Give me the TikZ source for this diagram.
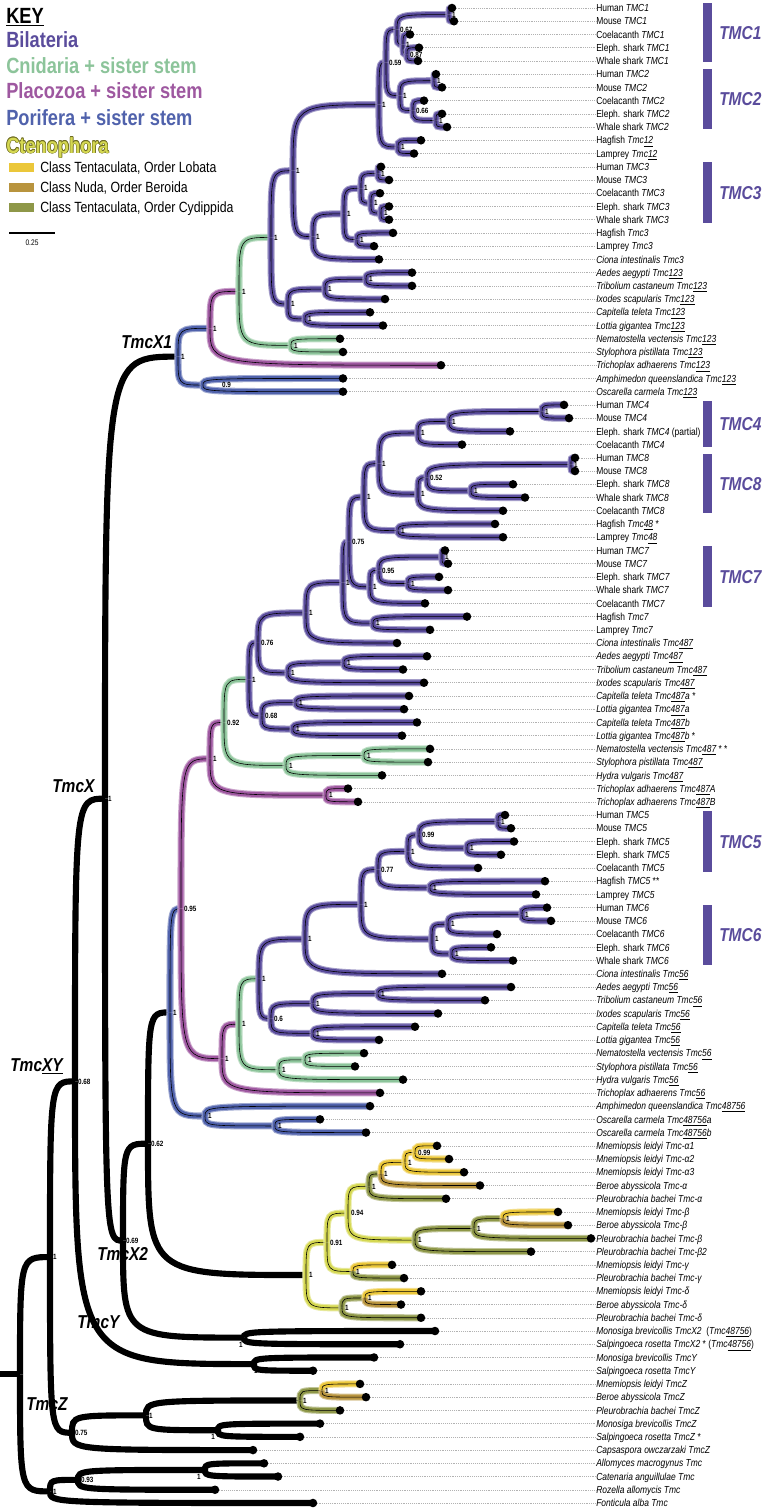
\documentclass[tikz,border=0pt]{standalone}
\usepackage{fontspec}
\newfontfamily\nar[FakeStretch=0.83]{Liberation Sans}

\definecolor{bilc}{HTML}{5A4C9C}
\definecolor{cnic}{HTML}{8CC49A}
\definecolor{plac}{HTML}{9E58A0}
\definecolor{porc}{HTML}{5062AC}
\definecolor{ctec}{HTML}{D5D852}
\definecolor{ctedark}{HTML}{6E6C22}
\definecolor{lobc}{HTML}{EBC73A}
\definecolor{berc}{HTML}{B8943E}
\definecolor{cydc}{HTML}{8E9748}

\pgfdeclarelayer{front}
\pgfsetlayers{main,front}

\tikzset{
  cb/.style={draw=#1!55!white, line width=5.3pt,
             postaction={draw=#1, line width=3.7pt},
             postaction={draw=black, line width=0.45pt}},
  bil/.style={cb=bilc}, cni/.style={cb=cnic}, pla/.style={cb=plac},
  por/.style={cb=porc}, cte/.style={cb=ctec}, lob/.style={cb=lobc},
  ber/.style={cb=berc}, cyd/.style={cb=cydc},
  blk/.style={draw=black, line width=4.6pt},
  sup/.style={font=\nar\bfseries\fontsize{5.7}{6}\selectfont, inner sep=0pt,
              text height=4.1pt, text depth=0pt, anchor=west, xshift=2.2pt},
  lbl/.style={font=\nar\fontsize{7.65}{9}\selectfont, inner sep=0pt,
              text height=5.5pt, text depth=0pt, anchor=west},
  lead/.style={draw=black!30, line width=0.4pt, densely dotted},
  keyhd/.style={font=\nar\bfseries\fontsize{16.5}{18}\selectfont, inner sep=0pt, anchor=base west},
  keysub/.style={font=\nar\fontsize{11.1}{13}\selectfont, inner sep=0pt, anchor=base west},
  gene/.style={font=\nar\bfseries\itshape\fontsize{14}{16}\selectfont, inner sep=0pt,
               text height=10pt, text depth=0pt, anchor=west}
}

% branch: vertical out of the parent, bending into the child
\newcommand\br[3]{\draw[#1] (#2) .. controls (#2 |- #3) .. (#3);}
% internal node with its support value
\newcommand\nd[5][]{\coordinate (#2) at (#3,#4);
  \begin{pgfonlayer}{front}\node[sup,#1] (#2s) at (#2) {#5};\end{pgfonlayer}}

\begin{document}
\begin{tikzpicture}[x=0.75pt, y=-0.75pt, font=\nar]
\useasboundingbox (0,0) rectangle (766,1511);
\fill[white] (0,0) rectangle (766,1511);

% ---- key ----
\node[keyhd] (kkey) at (6,23) {\underline{KEY}};
\node[keyhd, text=bilc] (kbil) at (6,47) {Bilateria};
\node[keyhd, text=cnic] (kcni) at (6,73) {Cnidaria + sister stem};
\node[keyhd, text=plac] (kpla) at (6,98) {Placozoa + sister stem};
\node[keyhd, text=porc] (kpor) at (6,125) {Porifera + sister stem};
\foreach \dx/\dy [count=\k] in {-0.55/0,0.55/0,0/-0.55,0/0.55,-0.4/-0.4,0.4/0.4,-0.4/0.4,0.4/-0.4}
  \node[keyhd, text=ctedark] (kco\k) at (6+\dx,153+\dy) {Ctenophora};
\node[keyhd, text=ctec] (kcte) at (6,153) {Ctenophora};
\foreach \cc/\yy/\tt [count=\k] in {lobc/163/{Class Tentaculata, Order Lobata},
    berc/183/{Class Nuda, Order Beroida}, cydc/203/{Class Tentaculata, Order Cydippida}} {
  \fill[\cc] (9,\yy) rectangle (34,\yy+9);
  \node[keysub] (ksub\k) at (40,\yy+9) {\tt};
}
\draw[line width=1.5pt] (9,233) coordinate (sb0) -- (55,233) coordinate (sb1);
\node[font=\nar\fontsize{6}{7}\selectfont, inner sep=0pt] (sbl) at (32,243) {0.25};

% ---- gene family names ----
\node[gene] (lx1) at (121,342) {TmcX1};
\node[gene] (lx) at (52,786) {TmcX};
\node[gene] (lxy) at (10,1065) {Tmc\underline{XY}};
\node[gene] (lx2) at (97,1254) {TmcX2};
\node[gene] (ly) at (77,1322) {TmcY};
\node[gene] (lz) at (26,1404) {TmcZ};

% ---- vertebrate paralog bars ----
\foreach \gn/\ya/\yb in {TMC1/3/62, TMC2/69/129, TMC3/162/223, TMC4/401/447,
    TMC8/454/513, TMC7/546/607, TMC5/811/872, TMC6/905/965} {
  \fill[bilc] (703,\ya) rectangle (712,\yb);
  \node[gene, text=bilc] (b\gn) at (719,{(\ya+\yb)/2}) {\gn};
}

% ---- tree (y in leaf rows) ----
\begin{scope}[y=-9.9225pt, yshift=3.9225pt]
% TmcX1
\nd{tmcx1}{178}{27.35}{1}
\nd{pla123}{210}{25.21}{1}
\nd{cni123}{239}{22.42}{1}
\nd{bil123}{271}{18.34}{1}
\nd{deu123}{293}{13.30}{1}
\nd{g12}{379}{8.31}{1}
\nd{t12}{386}{5.125}{0.59}
\nd{t1}{397}{2.625}{0.67}
\nd{t1hm}{449}{1.5}{1}
\nd{t1cew}{403}{3.75}{1}
\nd{t1ew}{407}{4.5}{0.87}
\nd{t2}{400}{7.625}{1}
\nd{t2hm}{434}{6.5}{1}
\nd{t2cew}{413}{8.75}{0.66}
\nd{t2ew}{436}{9.5}{1}
\nd{cy12}{398}{11.5}{1}
\nd{t3d}{313}{18.28}{1}
\nd{t3v}{344}{16.56}{1}
\nd{t3g}{361}{14.625}{1}
\nd{t3hm}{378}{13.5}{1}
\nd{t3cew}{371}{15.75}{1}
\nd{t3ew}{381}{16.5}{1}
\nd{cy3}{357}{18.5}{1}
\nd{pro123}{288}{23.375}{1}
\nd{ati123}{325}{22.25}{1}
\nd{at123}{366}{21.5}{1}
\nd{cl123}{305}{24.5}{1}
\nd{cnp123}{291}{26.5}{1}
\nd[xshift=12pt]{porp123}{203}{29.5}{0.9}
% TmcX2 side: Tmc487 / Tmc56
\nd{tmcx}{105}{60.76}{1}
\nd{tmcx2}{123}{94.17}{0.69}
\nd{gx}{148}{86.84}{0.62}
\nd{px}{170}{76.915}{1}
\nd{plx}{181}{69.08}{0.95}
\nd{pla487}{210}{57.75}{1}
\nd{cni487}{224}{55.0}{0.92}
\nd{bil487}{249}{51.74}{1}
\nd{dp487}{258}{48.98}{0.76}
\nd{t487d}{306}{46.72}{1}
\nd{t487v}{343}{44.43}{1}
\nd{t487g}{349}{41.36}{0.75}
\nd{t48}{364}{37.97}{1}
\nd{t48g}{379}{35.44}{1}
\nd{t4}{418}{33.125}{1}
\nd{t4he}{449}{32.25}{1}
\nd{t4hm}{542}{31.5}{1}
\nd{t8}{418}{37.75}{1}
\nd{t8hw}{427}{36.5}{0.52}
\nd{t8hm}{571}{35.5}{1}
\nd{t8ew}{471}{37.5}{1}
\nd{cy48}{398}{40.5}{1}
\nd{t7}{370}{44.75}{1}
\nd{t7hw}{379}{43.5}{0.95}
\nd{t7hm}{442}{42.5}{1}
\nd{t7ew}{408}{44.5}{1}
\nd{cy7}{373}{47.5}{1}
\nd{ati487}{288}{51.25}{1}
\nd{at487}{344}{50.5}{1}
\nd{cl487}{262}{54.5}{0.68}
\nd{cla487}{296}{53.5}{1}
\nd{clb487}{293}{55.5}{1}
\nd{cnp487}{286}{58.25}{1}
\nd{nsp487}{364}{57.5}{1}
\nd{trp487}{326}{60.5}{1}
\nd{pla56}{222}{80.41}{1}
\nd{cni56}{239}{77.81}{1}
\nd{bil56}{259}{74.375}{1}
\nd{t56d}{305}{71.375}{1}
\nd{t56v}{361}{68.75}{1}
\nd{t5v}{378}{66.125}{0.77}
\nd{t5}{408}{64.75}{1}
\nd{t5he}{419}{63.5}{0.99}
\nd{t5hm}{498}{62.5}{1}
\nd{t5ee}{467}{64.5}{1}
\nd{cy5}{430}{67.5}{1}
\nd{t6}{432}{71.375}{1}
\nd{t6hc}{448}{70.25}{1}
\nd{t6hm}{522}{69.5}{1}
\nd{t6ew}{452}{72.5}{1}
\nd{pro56}{271}{77.375}{0.6}
\nd{ati56}{313}{76.25}{1}
\nd{at56}{378}{75.5}{1}
\nd{cl56}{313}{78.5}{1}
\nd{cnp56}{279}{81.25}{1}
\nd{nsp56}{305}{80.5}{1}
\nd{pori}{205}{84.75}{1}
\nd{osc}{275}{85.5}{1}
% ctenophores
\nd{cx2}{306}{96.77}{1}
\nd{ctg}{327}{94.3}{0.91}
\nd{ab94}{348}{92.09}{0.94}
\nd{alpha}{369}{90.06}{1}
\nd{ab}{381}{89.125}{1}
\nd{a123}{405}{88.25}{1}
\nd{a12}{415}{87.5}{0.99}
\nd{beta}{415}{94.125}{1}
\nd{bpb}{474}{93.25}{1}
\nd{bmb}{503}{92.5}{1}
\nd{gam}{353}{96.5}{1}
\nd{del}{342}{99.25}{1}
\nd{dmb}{365}{98.5}{1}
% choanoflagellates, TmcZ, fungi
\nd[anchor=north east, xshift=-3pt, yshift=-3pt]{chx2}{244}{101.5}{1}
\nd[anchor=north, xshift=-0.7pt, yshift=-3pt]{chy}{254}{103.5}{1}
\nd{tmcxy}{75}{82.13}{0.68}
\nd{ctz}{300}{106.25}{1}
\nd{zmb}{322}{105.5}{1}
\nd[anchor=north east, xshift=-4.4pt, yshift=-3pt]{chz}{218}{108.5}{1}
\nd{z1}{146}{107.375}{1}
\nd{tmcz}{72}{108.69}{0.75}
\nd{ncore}{50}{95.41}{1}
\nd[anchor=north east, xshift=-5.2pt, yshift=-3pt]{fac}{205}{111.5}{1}
\nd{fungi}{78}{112.25}{0.93}
\nd{fout}{50}{113.125}{1}
\coordinate (root) at (20,104.27);
\coordinate (stub) at (0,104.27);

% ---- backbone ----
\draw[blk] (stub) -- (root);
\br{blk}{root}{ncore}
\br{blk}{root}{fout}
\br{blk}{fout}{fungi}
\br{blk}{fungi}{fac}
\br{blk}{ncore}{tmcxy}
\br{blk}{ncore}{tmcz}
\br{blk}{tmcz}{z1}
\br{blk}{z1}{ctz}
\br{blk}{z1}{chz}
\br{cyd}{ctz}{zmb}
\br{blk}{tmcxy}{tmcx}
\br{blk}{tmcxy}{chy}
\br{blk}{tmcx}{tmcx1}
\br{blk}{tmcx}{tmcx2}
\br{blk}{tmcx2}{gx}
\br{blk}{tmcx2}{chx2}
\br{blk}{gx}{px}
\br{blk}{gx}{cx2}

% ---- TmcX1 ----
\br{por}{tmcx1}{pla123}
\br{por}{tmcx1}{porp123}
\br{pla}{pla123}{cni123}
\br{cni}{cni123}{bil123}
\br{cni}{cni123}{cnp123}
\br{bil}{bil123}{deu123}
\br{bil}{bil123}{pro123}
\br{bil}{deu123}{g12}
\br{bil}{deu123}{t3d}
\br{bil}{g12}{t12}
\br{bil}{g12}{cy12}
\br{bil}{t12}{t1}
\br{bil}{t12}{t2}
\br{bil}{t1}{t1hm}
\br{bil}{t1}{t1cew}
\br{bil}{t1cew}{t1ew}
\br{bil}{t2}{t2hm}
\br{bil}{t2}{t2cew}
\br{bil}{t2cew}{t2ew}
\br{bil}{t3d}{t3v}
\br{bil}{t3v}{t3g}
\br{bil}{t3v}{cy3}
\br{bil}{t3g}{t3hm}
\br{bil}{t3g}{t3cew}
\br{bil}{t3cew}{t3ew}
\br{bil}{pro123}{ati123}
\br{bil}{pro123}{cl123}
\br{bil}{ati123}{at123}

% ---- Tmc487 ----
\br{por}{px}{plx}
\br{por}{px}{pori}
\br{por}{pori}{osc}
\br{pla}{plx}{pla487}
\br{pla}{plx}{pla56}
\br{pla}{pla487}{cni487}
\br{pla}{pla487}{trp487}
\br{cni}{cni487}{bil487}
\br{cni}{cni487}{cnp487}
\br{cni}{cnp487}{nsp487}
\br{bil}{bil487}{dp487}
\br{bil}{bil487}{cl487}
\br{bil}{dp487}{t487d}
\br{bil}{dp487}{ati487}
\br{bil}{ati487}{at487}
\br{bil}{cl487}{cla487}
\br{bil}{cl487}{clb487}
\br{bil}{t487d}{t487v}
\br{bil}{t487v}{t487g}
\br{bil}{t487v}{cy7}
\br{bil}{t487g}{t48}
\br{bil}{t487g}{t7}
\br{bil}{t48}{t48g}
\br{bil}{t48}{cy48}
\br{bil}{t48g}{t4}
\br{bil}{t48g}{t8}
\br{bil}{t4}{t4he}
\br{bil}{t4he}{t4hm}
\br{bil}{t8}{t8hw}
\br{bil}{t8hw}{t8hm}
\br{bil}{t8hw}{t8ew}
\br{bil}{t7}{t7hw}
\br{bil}{t7hw}{t7hm}
\br{bil}{t7hw}{t7ew}

% ---- Tmc56 ----
\br{pla}{pla56}{cni56}
\br{cni}{cni56}{bil56}
\br{cni}{cni56}{cnp56}
\br{cni}{cnp56}{nsp56}
\br{bil}{bil56}{t56d}
\br{bil}{bil56}{pro56}
\br{bil}{pro56}{ati56}
\br{bil}{pro56}{cl56}
\br{bil}{ati56}{at56}
\br{bil}{t56d}{t56v}
\br{bil}{t56v}{t5v}
\br{bil}{t56v}{t6}
\br{bil}{t5v}{t5}
\br{bil}{t5v}{cy5}
\br{bil}{t5}{t5he}
\br{bil}{t5he}{t5hm}
\br{bil}{t5he}{t5ee}
\br{bil}{t6}{t6hc}
\br{bil}{t6}{t6ew}
\br{bil}{t6hc}{t6hm}

% ---- ctenophores ----
\br{cte}{cx2}{ctg}
\br{cte}{cx2}{del}
\br{cyd}{del}{dmb}
\br{cte}{ctg}{ab94}
\br{cte}{ctg}{gam}
\br{cte}{ab94}{alpha}
\br{cte}{ab94}{beta}
\br{cyd}{alpha}{ab}
\br{lob}{ab}{a123}
\br{lob}{a123}{a12}
\br{cyd}{beta}{bpb}
\br{cyd}{bpb}{bmb}

% ---- leaves: tip x / parent / colour / label ----
\foreach \tx/\pa/\clr/\lb [count=\i] in {
452/t1hm/bil/Human \textit{TMC1},
454/t1hm/bil/Mouse \textit{TMC1},
410/t1cew/bil/Coelacanth \textit{TMC1},
419/t1ew/bil/Eleph. shark \textit{TMC1},
418/t1ew/bil/Whale shark \textit{TMC1},
436/t2hm/bil/Human \textit{TMC2},
442/t2hm/bil/Mouse \textit{TMC2},
424/t2cew/bil/Coelacanth \textit{TMC2},
442/t2ew/bil/Eleph. shark \textit{TMC2},
447/t2ew/bil/Whale shark \textit{TMC2},
421/cy12/bil/Hagfish \textit{Tmc\underline{12}},
414/cy12/bil/Lamprey \textit{Tmc\underline{12}},
381/t3hm/bil/Human \textit{TMC3},
389/t3hm/bil/Mouse \textit{TMC3},
380/t3cew/bil/Coelacanth \textit{TMC3},
389/t3ew/bil/Eleph. shark \textit{TMC3},
389/t3ew/bil/Whale shark \textit{TMC3},
393/cy3/bil/Hagfish \textit{Tmc3},
374/cy3/bil/Lamprey \textit{Tmc3},
379/t3d/bil/\textit{Ciona intestinalis Tmc3},
412/at123/bil/\textit{Aedes aegypti Tmc\underline{123}},
412/at123/bil/\textit{Tribolium castaneum Tmc\underline{123}},
385/ati123/bil/\textit{Ixodes scapularis Tmc\underline{123}},
370/cl123/bil/\textit{Capitella teleta Tmc\underline{123}},
383/cl123/bil/\textit{Lottia gigantea Tmc\underline{123}},
340/cnp123/cni/\textit{Nematostella vectensis Tmc\underline{123}},
343/cnp123/cni/\textit{Stylophora pistillata Tmc\underline{123}},
441/pla123/pla/\textit{Trichoplax adhaerens Tmc\underline{123}},
343/porp123/por/\textit{Amphimedon queenslandica Tmc\underline{123}},
343/porp123/por/\textit{Oscarella carmela Tmc\underline{123}},
564/t4hm/bil/Human \textit{TMC4},
569/t4hm/bil/Mouse \textit{TMC4},
510/t4he/bil/Eleph. shark \textit{TMC4} (partial),
462/t4/bil/Coelacanth \textit{TMC4},
575/t8hm/bil/Human \textit{TMC8},
575/t8hm/bil/Mouse \textit{TMC8},
513/t8ew/bil/Eleph. shark \textit{TMC8},
525/t8ew/bil/Whale shark \textit{TMC8},
503/t8/bil/Coelacanth \textit{TMC8},
495/cy48/bil/Hagfish \textit{Tmc\underline{48}} *,
503/cy48/bil/Lamprey \textit{Tmc\underline{48}},
445/t7hm/bil/Human \textit{TMC7},
448/t7hm/bil/Mouse \textit{TMC7},
439/t7ew/bil/Eleph. shark \textit{TMC7},
448/t7ew/bil/Whale shark \textit{TMC7},
425/t7/bil/Coelacanth \textit{TMC7},
467/cy7/bil/Hagfish \textit{Tmc7},
430/cy7/bil/Lamprey \textit{Tmc7},
397/t487d/bil/\textit{Ciona intestinalis Tmc\underline{487}},
427/at487/bil/\textit{Aedes aegypti Tmc\underline{487}},
403/at487/bil/\textit{Tribolium castaneum Tmc\underline{487}},
424/ati487/bil/\textit{Ixodes scapularis Tmc\underline{487}},
409/cla487/bil/\textit{Capitella teleta Tmc\underline{487}a} *,
404/cla487/bil/\textit{Lottia gigantea Tmc\underline{487}a},
417/clb487/bil/\textit{Capitella teleta Tmc\underline{487}b},
402/clb487/bil/\textit{Lottia gigantea Tmc\underline{487}b} *,
430/nsp487/cni/\textit{Nematostella vectensis Tmc\underline{487}} * *,
428/nsp487/cni/\textit{Stylophora pistillata Tmc\underline{487}},
382/cnp487/cni/\textit{Hydra vulgaris Tmc\underline{487}},
348/trp487/pla/\textit{Trichoplax adhaerens Tmc\underline{487}A},
358/trp487/pla/\textit{Trichoplax adhaerens Tmc\underline{487}B},
505/t5hm/bil/Human \textit{TMC5},
511/t5hm/bil/Mouse \textit{TMC5},
514/t5ee/bil/Eleph. shark \textit{TMC5},
501/t5ee/bil/Eleph. shark \textit{TMC5},
478/t5/bil/Coelacanth \textit{TMC5},
545/cy5/bil/Hagfish \textit{TMC5} **,
536/cy5/bil/Lamprey \textit{TMC5},
547/t6hm/bil/Human \textit{TMC6},
551/t6hm/bil/Mouse \textit{TMC6},
497/t6hc/bil/Coelacanth \textit{TMC6},
491/t6ew/bil/Eleph. shark \textit{TMC6},
513/t6ew/bil/Whale shark \textit{TMC6},
442/t56d/bil/\textit{Ciona intestinalis Tmc\underline{56}},
511/at56/bil/\textit{Aedes aegypti Tmc\underline{56}},
485/at56/bil/\textit{Tribolium castaneum Tmc\underline{56}},
438/ati56/bil/\textit{Ixodes scapularis Tmc\underline{56}},
415/cl56/bil/\textit{Capitella teleta Tmc\underline{56}},
379/cl56/bil/\textit{Lottia gigantea Tmc\underline{56}},
364/nsp56/cni/\textit{Nematostella vectensis Tmc\underline{56}},
355/nsp56/cni/\textit{Stylophora pistillata Tmc\underline{56}},
403/cnp56/cni/\textit{Hydra vulgaris Tmc\underline{56}},
380/pla56/pla/\textit{Trichoplax adhaerens Tmc\underline{56}},
370/pori/por/\textit{Amphimedon queenslandica Tmc\underline{48756}},
320/osc/por/\textit{Oscarella carmela Tmc\underline{48756}a},
366/osc/por/\textit{Oscarella carmela Tmc\underline{48756}b},
437/a12/lob/\textit{Mnemiopsis leidyi Tmc-α1},
449/a12/lob/\textit{Mnemiopsis leidyi Tmc-α2},
464/a123/lob/\textit{Mnemiopsis leidyi Tmc-α3},
480/ab/ber/\textit{Beroe abyssicola Tmc-α},
446/alpha/cyd/\textit{Pleurobrachia bachei Tmc-α},
558/bmb/lob/\textit{Mnemiopsis leidyi Tmc-β},
568/bmb/ber/\textit{Beroe abyssicola Tmc-β},
591/bpb/cyd/\textit{Pleurobrachia bachei Tmc-β},
531/beta/cyd/\textit{Pleurobrachia bachei Tmc-β2},
392/gam/lob/\textit{Mnemiopsis leidyi Tmc-γ},
404/gam/cyd/\textit{Pleurobrachia bachei Tmc-γ},
421/dmb/lob/\textit{Mnemiopsis leidyi Tmc-δ},
401/dmb/ber/\textit{Beroe abyssicola Tmc-δ},
421/del/cyd/\textit{Pleurobrachia bachei Tmc-δ},
435/chx2/blk/\textit{Monosiga brevicollis TmcX2}\ \ (\textit{Tmc\underline{48756}}),
400/chx2/blk/\textit{Salpingoeca rosetta TmcX2} * (\textit{Tmc\underline{48756}}),
374/chy/blk/\textit{Monosiga brevicollis TmcY},
313/chy/blk/\textit{Salpingoeca rosetta TmcY},
360/zmb/lob/\textit{Mnemiopsis leidyi TmcZ},
366/zmb/ber/\textit{Beroe abyssicola TmcZ},
340/ctz/cyd/\textit{Pleurobrachia bachei TmcZ},
320/chz/blk/\textit{Monosiga brevicollis TmcZ},
300/chz/blk/\textit{Salpingoeca rosetta TmcZ} *,
253/tmcz/blk/\textit{Capsaspora owczarzaki TmcZ},
264/fac/blk/\textit{Allomyces macrogynus Tmc},
278/fac/blk/\textit{Catenaria anguillulae Tmc},
215/fungi/blk/\textit{Rozella allomycis Tmc},
313/fout/blk/\textit{Fonticula alba Tmc}} {
  \coordinate (l\i) at (\tx,\i);
  \expandafter\br\expandafter{\clr}{\pa}{l\i}
  \node[lbl] (n\i) at (596,\i) {\lb};
  \draw[lead] (l\i) -- (n\i.west);
}
% tip dots
\foreach \i in {1,...,114} \fill (l\i) circle (3.2pt);
\end{scope}
\end{tikzpicture}
\end{document}
